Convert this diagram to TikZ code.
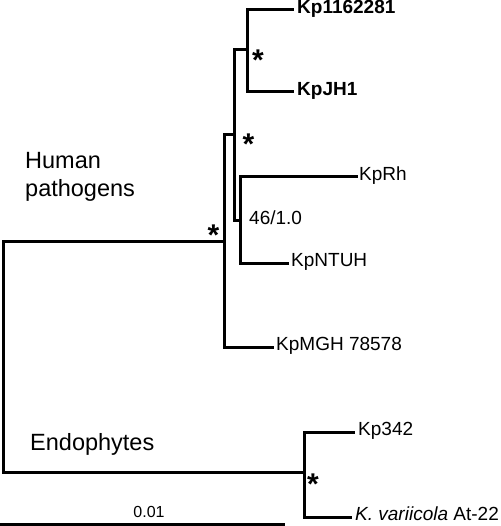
\documentclass[tikz,border=0pt]{standalone}
\usepackage{fontspec}
\setmainfont{Liberation Sans}
\begin{document}
\begin{tikzpicture}[x=1pt,y=-1pt,
  br/.style={line width=3pt,line cap=rect},
  leaf/.style={inner sep=0pt,anchor=west,text height=0.716em,text depth=0pt,font=\fontsize{19}{22}\selectfont},
  bleaf/.style={leaf,font=\fontsize{19}{22}\selectfont\bfseries},
  grp/.style={inner sep=0pt,anchor=base west,align=left,font=\fontsize{23.5}{28}\selectfont},
  star/.style={inner sep=0pt,anchor=base,font=\fontsize{30}{30}\selectfont\bfseries},
  sup/.style={inner sep=0pt,anchor=west,text height=0.716em,text depth=0pt,font=\fontsize{19}{22}\selectfont}]
\useasboundingbox (0,0) rectangle (500,526);
% internal vertices
\coordinate (R) at (3,356);
\coordinate (A) at (224,241);
\coordinate (C) at (234,135);
\coordinate (D) at (247,50);
\coordinate (E) at (240,221);
\coordinate (B) at (304,472);
% leaves
\node[bleaf] (k1) at (297,9.5) {Kp1162281};
\node[bleaf] (jh) at (297,92) {KpJH1};
\node[leaf] (rh) at (359,177) {KpRh};
\node[leaf] (nt) at (291,263) {KpNTUH};
\node[leaf] (mg) at (276,347) {KpMGH 78578};
\node[leaf] (k3) at (358,432) {Kp342};
\node[leaf] (kv) at (355,517) {\textit{K. variicola} At-22};
% branches
\draw[br] (R) |- (A);
\draw[br] (R) |- (B);
\draw[br] (A) |- (C);
\draw[br] (A) |- ([xshift=-4pt]mg.west);
\draw[br] (C) |- (D);
\draw[br] (C) |- (E);
\draw[br] (D) |- ([xshift=-5pt]k1.west);
\draw[br] (D) |- ([xshift=-5pt]jh.west);
\draw[br] (E) |- ([xshift=-3pt]rh.west);
\draw[br] (E) |- ([xshift=-4pt]nt.west);
\draw[br] (B) |- ([xshift=-5pt]k3.west);
\draw[br] (B) |- ([xshift=-5pt]kv.west);
% support values
\node[star] (s1) at (258,70.5) {*};
\node[star] (s2) at (248.5,154.5) {*};
\node[star] (s3) at (213.5,245.5) {*};
\node[star] (s4) at (313,494) {*};
\node[sup] (v1) at (249,221) {46/1.0};
% group labels
\node[grp] (hp) at (25,197) {Human\\pathogens};
\node[grp] (en) at (30,450) {Endophytes};
% scale bar
\coordinate (sb0) at (0,524.5);
\coordinate (sb1) at (285,524.5);
\draw[line width=3pt] (sb0) -- (sb1);
\node[inner sep=0pt,anchor=base,font=\fontsize{16}{18}\selectfont] (sl) at (149,517) {0.01};
\end{tikzpicture}
\end{document}
